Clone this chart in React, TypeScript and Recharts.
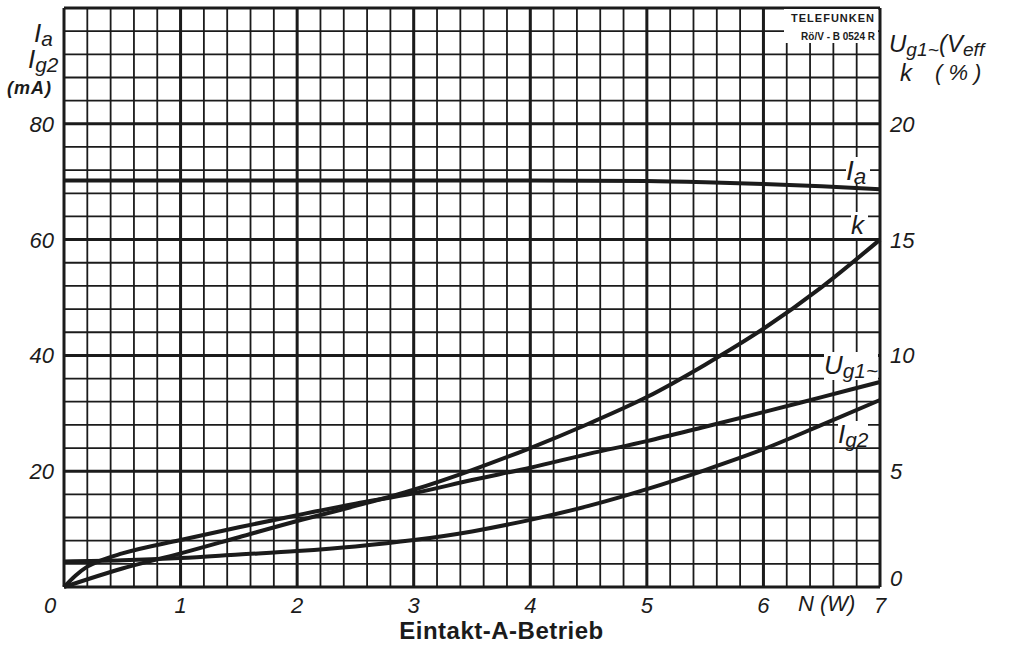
import React from 'react'
import {
  LineChart,
  Line,
  XAxis,
  YAxis,
  CartesianGrid,
  ReferenceLine,
} from 'recharts'

// Ausgangsleistung N (W) – Achsbeschriftung
const N_TICKS = [0, 1, 2, 3, 4, 5, 6, 7]
// linke Achse Ia / Ig2 (mA)
const MA_TICKS = [20, 40, 60, 80]
// rechte Achse Ug1~ (Veff) / k (%)
const RIGHT_TICKS = [0, 5, 10, 15, 20]

// Ia (mA)
const IA_N = [0, 1, 2, 3, 4, 5, 5.5, 6, 6.5, 7]
const IA_MA = [70.2, 70.2, 70.2, 70.2, 70.2, 70.1, 69.9, 69.6, 69.2, 68.7]

// Ig2 (mA)
const IG2_N = [0, 0.5, 1, 1.5, 2, 2.5, 3, 3.5, 4, 4.5, 5, 5.5, 6, 6.5, 7]
const IG2_MA = [4.4, 4.6, 5.0, 5.6, 6.2, 7.0, 8.1, 9.6, 11.6, 14.0, 16.9, 20.2, 23.8, 28.0, 32.3]

// Ug1~ (Veff)
const UG1_N = [0, 0.1, 0.2, 0.3, 0.5, 1, 1.5, 2, 2.5, 3, 3.5, 4, 4.5, 5, 5.5, 6, 6.5, 7]
const UG1_V = [0, 0.5, 0.88, 1.12, 1.45, 2.03, 2.58, 3.1, 3.6, 4.05, 4.62, 5.15, 5.75, 6.3, 6.92, 7.55, 8.2, 8.85]

// Klirrfaktor k (%)
const K_N = [0, 0.5, 1, 1.5, 2, 2.5, 3, 3.5, 4, 4.5, 5, 5.5, 6, 6.5, 7]
const K_PCT = [0, 0.8, 1.45, 2.15, 2.85, 3.5, 4.2, 5.05, 6.0, 7.05, 8.2, 9.6, 11.15, 12.95, 15]

// Raster: 0,2 W bzw. 4 mA
const X_GRID = Array.from({ length: 36 }, (_, i) => +(i * 0.2).toFixed(1))
const Y_GRID = Array.from({ length: 26 }, (_, i) => i * 4)

const toRows = (ns: number[], vs: number[]) => ns.map((n, i) => ({ n, v: vs[i] }))

const INK = '#1b1b1b'
const FONT = "'Liberation Sans', Arial, sans-serif"

const XTick = (props: any) => {
  const { x, y, payload } = props
  const v = payload.value
  if (!Number.isInteger(v)) return null
  return (
    <text
      x={v === 0 ? x - 14 : x}
      y={y + 18}
      textAnchor="middle"
      fontSize={22}
      fontStyle="italic"
      fontFamily={FONT}
      fill={INK}
    >
      {v}
    </text>
  )
}

const LeftTick = (props: any) => {
  const { x, y, payload } = props
  if (!MA_TICKS.includes(payload.value)) return null
  return (
    <text x={x - 2} y={y + 8} textAnchor="end" fontSize={22} fontStyle="italic" fontFamily={FONT} fill={INK}>
      {payload.value}
    </text>
  )
}

const RightTick = (props: any) => {
  const { x, y, payload } = props
  const v = payload.value
  return (
    <text x={x + 2} y={v === 0 ? y - 1 : y + 8} textAnchor="start" fontSize={22} fontStyle="italic" fontFamily={FONT} fill={INK}>
      {v}
    </text>
  )
}

// kleine Texte über dem Diagramm (mit weißem Hintergrund wie im Original)
function Tag({
  left,
  top,
  children,
  bg = true,
  size = 24,
  style,
}: {
  left: number
  top: number
  children: React.ReactNode
  bg?: boolean
  size?: number
  style?: React.CSSProperties
}) {
  return (
    <div
      style={{
        position: 'absolute',
        left,
        top,
        fontFamily: FONT,
        fontStyle: 'italic',
        fontSize: size,
        lineHeight: 1,
        color: INK,
        background: bg ? '#fff' : 'transparent',
        whiteSpace: 'nowrap',
        ...style,
      }}
    >
      {children}
    </div>
  )
}

const Sub = ({ children }: { children: React.ReactNode }) => (
  <span style={{ fontSize: '0.8em', position: 'relative', top: '0.2em' }}>{children}</span>
)

export default function App() {
  return (
    <div style={{ position: 'absolute', left: 0, top: 0, width: 1009, height: 649, background: '#fff', overflow: 'hidden' }}>
      <LineChart width={1009} height={649} margin={{ top: 8, right: 69, bottom: 22, left: 20 }}>
        <CartesianGrid yAxisId="left" stroke={INK} strokeWidth={1.8} />
        <XAxis
          dataKey="n"
          type="number"
          domain={[0, 7]}
          ticks={X_GRID}
          interval={0}
          height={40}
          axisLine={false}
          tickLine={false}
          tick={<XTick />}
          allowDuplicatedCategory={false}
        />
        <YAxis
          yAxisId="left"
          type="number"
          domain={[0, 100]}
          ticks={Y_GRID}
          interval={0}
          width={44}
          axisLine={false}
          tickLine={false}
          tick={<LeftTick />}
        />
        <YAxis
          yAxisId="right"
          orientation="right"
          type="number"
          domain={[0, 25]}
          ticks={RIGHT_TICKS}
          interval={0}
          width={60}
          axisLine={false}
          tickLine={false}
          tick={<RightTick />}
        />
        {N_TICKS.map((n) => (
          <ReferenceLine key={`x${n}`} yAxisId="left" x={n} stroke={INK} strokeWidth={3} />
        ))}
        {[0, ...MA_TICKS, 100].map((m) => (
          <ReferenceLine key={`y${m}`} yAxisId="left" y={m} stroke={INK} strokeWidth={3} />
        ))}
        <Line yAxisId="left" data={toRows(IA_N, IA_MA)} dataKey="v" type="monotone" stroke={INK} strokeWidth={4} dot={false} isAnimationActive={false} />
        <Line yAxisId="left" data={toRows(IG2_N, IG2_MA)} dataKey="v" type="monotone" stroke={INK} strokeWidth={4} dot={false} isAnimationActive={false} />
        <Line yAxisId="right" data={toRows(UG1_N, UG1_V)} dataKey="v" type="monotone" stroke={INK} strokeWidth={4} dot={false} isAnimationActive={false} />
        <Line yAxisId="right" data={toRows(K_N, K_PCT)} dataKey="v" type="monotone" stroke={INK} strokeWidth={4} dot={false} isAnimationActive={false} />
      </LineChart>

      {/* Achsentitel links */}
      <Tag left={34} top={20} bg={false} size={26}>I<Sub>a</Sub></Tag>
      <Tag left={28} top={46} bg={false} size={26}>I<Sub>g2</Sub></Tag>
      <Tag left={7} top={79} bg={false} size={18} style={{ fontWeight: 'bold', letterSpacing: 1 }}>(mA)</Tag>

      {/* Achsentitel rechts */}
      <Tag left={889} top={32} bg={false} size={24}>U<Sub>g1~</Sub>(V<Sub>eff</Sub></Tag>
      <Tag left={900} top={61} bg={false} size={24}>k</Tag>
      <Tag left={935} top={62} bg={false} size={22}>( % )</Tag>

      {/* Kurvenbeschriftungen */}
      <Tag left={846} top={157} size={28} style={{ paddingRight: 4, height: 26 }}>I<Sub>a</Sub></Tag>
      <Tag left={851} top={212} size={26} style={{ paddingRight: 4 }}>k</Tag>
      <Tag left={824} top={352} size={26} style={{ height: 28 }}>U<Sub>g1~</Sub></Tag>
      <Tag left={838} top={421} size={26} style={{ height: 26 }}>I<Sub>g2</Sub></Tag>

      {/* Stempel */}
      <div
        style={{
          position: 'absolute',
          left: 784,
          top: 9,
          width: 94,
          height: 34,
          background: '#fff',
          fontFamily: FONT,
          fontWeight: 'bold',
          color: INK,
          textAlign: 'right',
          lineHeight: 1,
        }}
      >
        <div style={{ fontSize: 11, letterSpacing: 1, marginTop: 4, marginRight: 3 }}>TELEFUNKEN</div>
        <div style={{ fontSize: 10, marginTop: 8, marginRight: 3 }}>Rö/V - B 0524 R</div>
      </div>

      {/* x-Achse */}
      <Tag left={798} top={593} bg={false} size={22}>N (W)</Tag>
      <div
        style={{
          position: 'absolute',
          left: 0,
          width: 1009,
          top: 617,
          textAlign: 'center',
          fontFamily: FONT,
          fontWeight: 'bold',
          fontSize: 24,
          letterSpacing: 0.5,
          color: INK,
        }}
      >
        <span style={{ position: 'relative', left: -3 }}>Eintakt-A-Betrieb</span>
      </div>
    </div>
  )
}
